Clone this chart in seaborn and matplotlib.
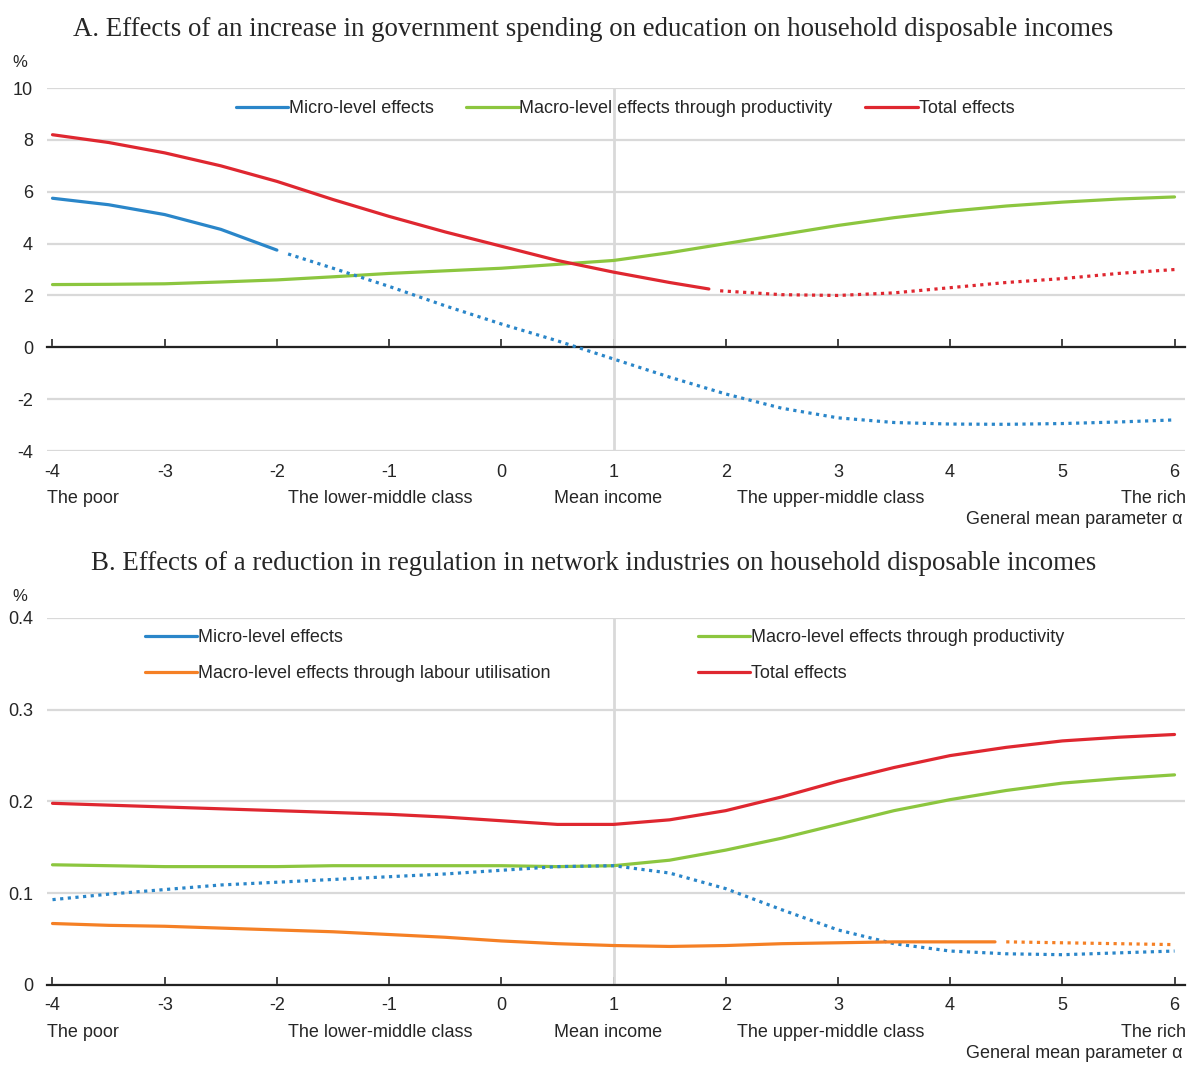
import matplotlib
matplotlib.use("Agg")
import matplotlib.pyplot as plt
from matplotlib.lines import Line2D
import seaborn as sns

# ---- Panel A data (general mean parameter alpha on x, % change on y) ----
a_micro_solid_x = [-4, -3.5, -3, -2.5, -2]
a_micro_solid_y = [5.75, 5.5, 5.12, 4.55, 3.75]
a_micro_dot_x = [-1.9, -1.5, -1, -0.5, 0, 0.5, 1, 1.5, 2, 2.5, 3, 3.5, 4, 4.5, 5, 5.5, 6]
a_micro_dot_y = [3.6, 3.05, 2.35, 1.6, 0.9, 0.25, -0.45, -1.15, -1.8, -2.35, -2.72,
                 -2.9, -2.96, -2.97, -2.94, -2.88, -2.8]

a_prod_x = [-4, -3.5, -3, -2.5, -2, -1.5, -1, -0.5, 0, 0.5, 1, 1.5, 2, 2.5, 3, 3.5,
            4, 4.5, 5, 5.5, 6]
a_prod_y = [2.42, 2.43, 2.45, 2.52, 2.6, 2.72, 2.85, 2.95, 3.05, 3.2, 3.35, 3.65,
            4.0, 4.35, 4.7, 5.0, 5.25, 5.45, 5.6, 5.72, 5.8]

a_total_solid_x = [-4, -3.5, -3, -2.5, -2, -1.5, -1, -0.5, 0, 0.5, 1, 1.5, 1.85]
a_total_solid_y = [8.2, 7.9, 7.5, 7.0, 6.4, 5.7, 5.05, 4.45, 3.9, 3.35, 2.9, 2.5, 2.25]
a_total_dot_x = [1.95, 2.5, 3, 3.5, 4, 4.5, 5, 5.5, 6]
a_total_dot_y = [2.18, 2.03, 2.0, 2.1, 2.3, 2.5, 2.65, 2.85, 3.0]

# ---- Panel B data ----
b_x = [-4, -3.5, -3, -2.5, -2, -1.5, -1, -0.5, 0, 0.5, 1, 1.5, 2, 2.5, 3, 3.5,
       4, 4.5, 5, 5.5, 6]
b_total_y = [0.198, 0.196, 0.194, 0.192, 0.19, 0.188, 0.186, 0.183, 0.179, 0.175,
             0.175, 0.18, 0.19, 0.205, 0.222, 0.237, 0.25, 0.259, 0.266, 0.27, 0.273]
b_prod_y = [0.131, 0.13, 0.129, 0.129, 0.129, 0.13, 0.13, 0.13, 0.13, 0.129, 0.13,
            0.136, 0.147, 0.16, 0.175, 0.19, 0.202, 0.212, 0.22, 0.225, 0.229]
b_micro_dot_y = [0.093, 0.099, 0.104, 0.109, 0.112, 0.115, 0.118, 0.121, 0.125,
                 0.129, 0.13, 0.122, 0.105, 0.082, 0.06, 0.045, 0.037, 0.034,
                 0.033, 0.035, 0.037]
b_labour_solid_x = [-4, -3.5, -3, -2.5, -2, -1.5, -1, -0.5, 0, 0.5, 1, 1.5, 2, 2.5,
                    3, 3.5, 4, 4.4]
b_labour_solid_y = [0.067, 0.065, 0.064, 0.062, 0.06, 0.058, 0.055, 0.052, 0.048,
                    0.045, 0.043, 0.042, 0.043, 0.045, 0.046, 0.047, 0.047, 0.047]
b_labour_dot_x = [4.5, 5, 5.5, 6]
b_labour_dot_y = [0.047, 0.046, 0.045, 0.044]

x_ticks = [-4, -3, -2, -1, 0, 1, 2, 3, 4, 5, 6]
group_labels = ["The poor", "The lower-middle class", "Mean income",
                "The upper-middle class", "The rich"]
group_pos = [-4.05, -1.9, 0.95, 2.1, 6.1]
group_ha = ["left", "left", "center", "left", "right"]

title_a = "A. Effects of an increase in government spending on education on household disposable incomes"
title_b = "B. Effects of a reduction in regulation in network industries on household disposable incomes"

BLUE = "#2a86c9"
GREEN = "#8cc63f"
RED = "#df2730"
ORANGE = "#f58025"
GRID = "#d9d9d9"
DOT = (0, (1, 1.4))
LW = 2.3
FS = 13

sns.set_theme(style="white")
plt.rcParams["font.family"] = ["Liberation Sans Narrow", "Liberation Sans", "DejaVu Sans"]

fig = plt.figure(figsize=(11.87, 10.66), dpi=100)
ax_a = fig.add_axes([0.0395, 0.5769, 0.9585, 0.3405])
ax_b = fig.add_axes([0.0395, 0.0760, 0.9585, 0.3443])


def draw(ax, x, y, color, dotted=False):
    sns.lineplot(x=x, y=y, ax=ax, color=color, lw=LW,
                 linestyle=DOT if dotted else "-", zorder=3)


# panel A lines
draw(ax_a, a_prod_x, a_prod_y, GREEN)
draw(ax_a, a_micro_solid_x, a_micro_solid_y, BLUE)
draw(ax_a, a_micro_dot_x, a_micro_dot_y, BLUE, dotted=True)
draw(ax_a, a_total_solid_x, a_total_solid_y, RED)
draw(ax_a, a_total_dot_x, a_total_dot_y, RED, dotted=True)

# panel B lines
draw(ax_b, b_x, b_total_y, RED)
draw(ax_b, b_x, b_prod_y, GREEN)
draw(ax_b, b_x, b_micro_dot_y, BLUE, dotted=True)
draw(ax_b, b_labour_solid_x, b_labour_solid_y, ORANGE)
draw(ax_b, b_labour_dot_x, b_labour_dot_y, ORANGE, dotted=True)


def style_axis(ax, ylim, yticks, ylabels, zero_axis):
    ax.set_xlim(-4.05, 6.09)
    ax.set_ylim(*ylim)
    ax.set_yticks(yticks)
    ax.set_yticklabels(ylabels)
    for s in ["top", "right", "left"]:
        ax.spines[s].set_visible(False)
    ax.spines["bottom"].set_color("#222222")
    ax.spines["bottom"].set_linewidth(1.6)
    if zero_axis:
        ax.spines["bottom"].set_position(("data", 0))
    ax.set_axisbelow(True)
    ax.grid(axis="y", color=GRID, lw=1.6)
    ax.grid(axis="x", visible=False)
    ax.axvline(1, color=GRID, lw=2, zorder=1)
    ax.set_xticks(x_ticks)
    ax.tick_params(axis="x", direction="in", length=6, width=1.4, color="#444444",
                   labelbottom=False, bottom=True)
    ax.tick_params(axis="y", length=0, pad=10, labelsize=FS)
    ax.set_xlabel("")
    ax.set_ylabel("")
    # x tick labels at the bottom of the plot area
    sec = ax.secondary_xaxis("bottom")
    sec.set_xticks(x_ticks)
    sec.set_xticklabels([str(t) for t in x_ticks])
    sec.tick_params(length=0, pad=9, labelsize=FS)
    sec.spines["bottom"].set_visible(False)
    for lab, pos, ha in zip(group_labels, group_pos, group_ha):
        ax.annotate(lab, xy=(pos, 0), xycoords=("data", "axes fraction"),
                    xytext=(0, -34), textcoords="offset points", ha=ha, va="center",
                    fontsize=FS)
    ax.annotate("General mean parameter \u03b1", xy=(6.07, 0),
                xycoords=("data", "axes fraction"), xytext=(0, -49),
                textcoords="offset points", ha="right", va="center", fontsize=FS)


style_axis(ax_a, (-4, 10), [-4, -2, 0, 2, 4, 6, 8, 10],
           ["-4", "-2", "0", "2", "4", "6", "8", "10"], True)
style_axis(ax_b, (0, 0.4), [0, 0.1, 0.2, 0.3, 0.4],
           ["0", "0.1", "0.2", "0.3", "0.4"], False)

# legends
h_micro = Line2D([], [], color=BLUE, lw=LW)
h_prod = Line2D([], [], color=GREEN, lw=LW)
h_total = Line2D([], [], color=RED, lw=LW)
h_labour = Line2D([], [], color=ORANGE, lw=LW)
leg_kw = dict(frameon=False, fontsize=FS, handlelength=2.9, handletextpad=0.05,
              borderpad=0, borderaxespad=0)

ax_a.legend([h_micro, h_prod, h_total],
            ["Micro-level effects", "Macro-level effects through productivity", "Total effects"],
            loc="upper center", bbox_to_anchor=(0.508, 0.966), ncol=3,
            columnspacing=1.8, **leg_kw)

leg_b1 = ax_b.legend([h_micro, h_labour],
                     ["Micro-level effects", "Macro-level effects through labour utilisation"],
                     loc="upper left", bbox_to_anchor=(0.086, 0.97), labelspacing=1.05,
                     **leg_kw)
ax_b.add_artist(leg_b1)
ax_b.legend([h_prod, h_total],
            ["Macro-level effects through productivity", "Total effects"],
            loc="upper left", bbox_to_anchor=(0.572, 0.97), labelspacing=1.05, **leg_kw)

serif = ["Liberation Serif", "DejaVu Serif"]
fig.text(0.5, 0.972, title_a, ha="center", va="center", fontsize=19.4, family=serif)
fig.text(0.5, 0.4717, title_b, ha="center", va="center", fontsize=19.4, family=serif)
fig.text(0.0168, 0.9418, "%", ha="center", va="center", fontsize=12)
fig.text(0.0168, 0.4400, "%", ha="center", va="center", fontsize=12)

fig.savefig("out.png", dpi=100)
